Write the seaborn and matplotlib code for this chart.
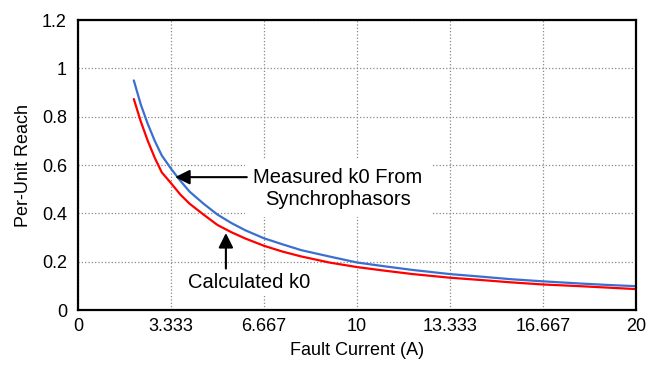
import numpy as np
import pandas as pd
import matplotlib
matplotlib.use("Agg")
import matplotlib.pyplot as plt
import seaborn as sb

# dados
corrente = [2.0, 2.25, 2.5, 2.75, 3.0, 3.333, 3.667, 4.0, 4.5, 5.0, 5.5, 6.0, 6.667,
            7.333, 8.0, 9.0, 10.0, 11.0, 12.0, 13.333, 14.5, 15.5, 16.667, 18.0, 19.0, 20.0]
medido = [0.95, 0.85, 0.77, 0.70, 0.64, 0.585, 0.535, 0.49, 0.44, 0.395, 0.36, 0.33, 0.297,
          0.272, 0.248, 0.222, 0.197, 0.181, 0.166, 0.149, 0.138, 0.128, 0.119, 0.110, 0.104, 0.099]
calculado = [0.873, 0.78, 0.70, 0.63, 0.57, 0.525, 0.478, 0.44, 0.395, 0.352, 0.322, 0.296, 0.266,
             0.242, 0.222, 0.197, 0.178, 0.163, 0.149, 0.134, 0.124, 0.115, 0.106, 0.099, 0.093, 0.087]

xticks = [0, 3.333, 6.667, 10, 13.333, 16.667, 20]
xtick_labels = ["0", "3.333", "6.667", "10", "13.333", "16.667", "20"]
yticks = [0, 0.2, 0.4, 0.6, 0.8, 1.0, 1.2]
ytick_labels = ["0", "0.2", "0.4", "0.6", "0.8", "1", "1.2"]

df = pd.DataFrame({"corrente": corrente, "medido": medido, "calculado": calculado})

sb.set_style("white")
plt.rcParams['font.family'] = ['Liberation Sans', 'DejaVu Sans']
plt.rcParams['text.color'] = 'black'
plt.rcParams['axes.labelcolor'] = 'black'

fig = plt.figure(figsize=(6.47, 3.67), dpi=100)
ax = fig.add_axes([0.1206, 0.155, 0.8624, 0.7905])

sb.lineplot(data=df, x="corrente", y="calculado", color="#ff0000", lw=1.6, ax=ax)
sb.lineplot(data=df, x="corrente", y="medido", color="#3a6fd0", lw=1.6, ax=ax)

ax.set_xlim(0, 20)
ax.set_ylim(0, 1.2)
ax.set_xticks(xticks)
ax.set_xticklabels(xtick_labels)
ax.set_yticks(yticks)
ax.set_yticklabels(ytick_labels)
ax.tick_params(axis="both", length=0, labelsize=13, colors="black")
ax.tick_params(axis="x", pad=6)
ax.tick_params(axis="y", pad=8)
ax.grid(True, linestyle=":", color="#888888", lw=0.9)
ax.set_axisbelow(True)
for s in ax.spines.values():
    s.set_color("black")
    s.set_linewidth(1.6)

ax.set_xlabel("Fault Current (A)", fontsize=13, labelpad=5)
ax.set_ylabel("Per-Unit Reach", fontsize=13, labelpad=7)

# anotacoes
ax.text(9.32, 0.503, "Measured k0 From\nSynchrophasors", ha="center", va="center",
        fontsize=14.5, linespacing=1.2, zorder=3,
        bbox=dict(facecolor="white", edgecolor="none", pad=6))
ax.annotate("", xy=(3.48, 0.55), xytext=(6.05, 0.55),
            arrowprops=dict(arrowstyle="-|>", color="black", lw=1.5, mutation_scale=22,
                            shrinkA=0, shrinkB=0), zorder=4)
ax.text(6.13, 0.116, "Calculated k0", ha="center", va="center", fontsize=14.5, zorder=3,
        bbox=dict(facecolor="white", edgecolor="none", pad=2))
ax.annotate("", xy=(5.3, 0.319), xytext=(5.3, 0.172),
            arrowprops=dict(arrowstyle="-|>", color="black", lw=1.5, mutation_scale=22,
                            shrinkA=0, shrinkB=0), zorder=4)

plt.savefig("out.png", dpi=100)
